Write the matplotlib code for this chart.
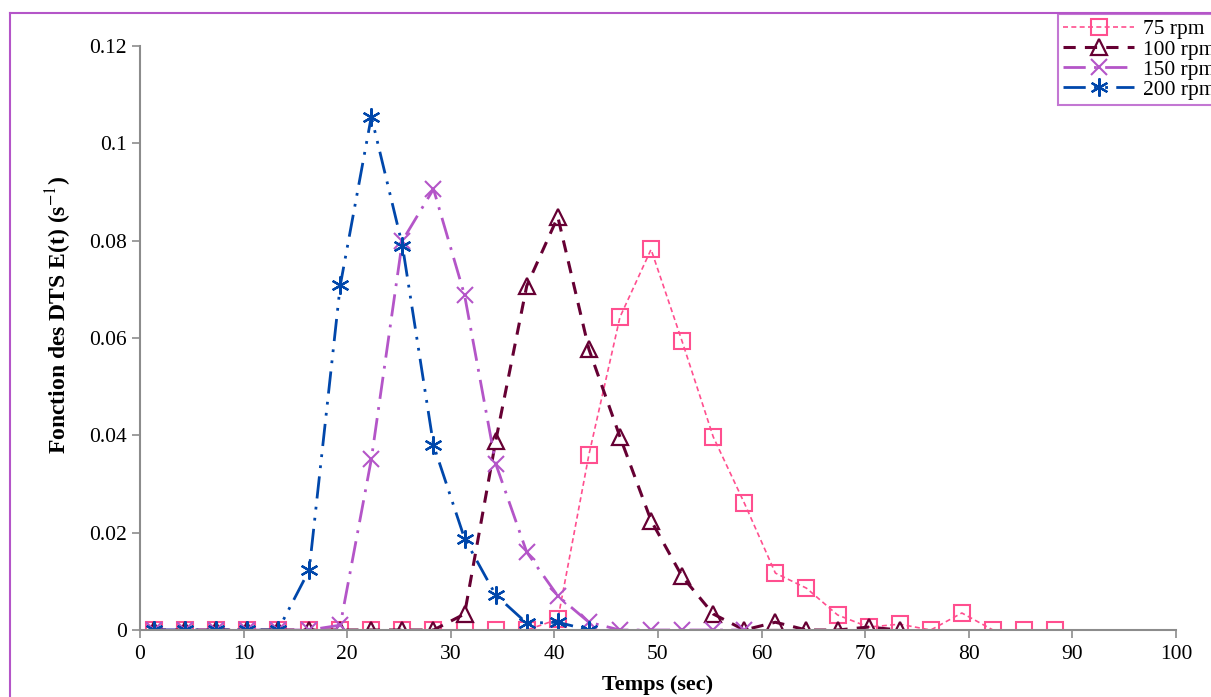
import numpy as np
import matplotlib.pyplot as plt
from matplotlib.lines import Line2D

plt.rcParams['font.family'] = ['Liberation Serif', 'DejaVu Serif']
plt.rcParams['mathtext.fontset'] = 'stix'

# temps (sec), pas de 3 s
t = np.arange(30) * 3 + 1.33

e75 = [0, 0, 0, 0, 0, 0, 0, 0, 0, 0, 0, 0, 0, 0.0022, 0.036, 0.0643, 0.0782,
       0.0593, 0.0397, 0.0261, 0.0117, 0.0086, 0.0031, 0.0006, 0.0012, 0,
       0.0035, 0, 0, 0]
e100 = [0, 0, 0, 0, 0, 0, 0, 0, 0, 0, 0.0033, 0.0388, 0.0707, 0.0849, 0.0577,
        0.0397, 0.0225, 0.011, 0.0033, 0, 0.0016, 0, 0, 0.0006, 0]
e150 = [0, 0, 0, 0, 0, 0, 0.001, 0.0351, 0.08, 0.0906, 0.0688, 0.0342, 0.016,
        0.007, 0.0016, 0, 0, 0, 0, 0]
e200 = [0, 0, 0, 0, 0, 0.0123, 0.0708, 0.1055, 0.079, 0.038, 0.0188, 0.0072,
        0.0014, 0.0016, 0]

labels = ['75 rpm', '100 rpm', '150 rpm', '200 rpm']

fig = plt.figure(figsize=(12.11, 6.97), dpi=100)
ax = fig.add_axes([0.1156, 0.0961, 0.8555, 0.8379])

ax.plot(t[:len(e75)], e75, color='#FF4F8F', lw=1.2, ls=(0, (3, 2)),
        marker='s', ms=11, mfc='none', mec='#FF4F8F', mew=1.5, label=labels[0])
ax.plot(t[:len(e100)], e100, color='#660033', lw=2.2, ls=(0, (4, 3)),
        marker='^', ms=11, mfc='none', mec='#660033', mew=1.6, label=labels[1])
ax.plot(t[:len(e150)], e150, color='#B455C8', lw=2.0, ls=(0, (8, 3, 1, 3)),
        marker='x', ms=11, mec='#B455C8', mew=1.5, label=labels[2])
ax.plot(t[:len(e200)], e200, color='#0047AB', lw=2.0, ls=(0, (8, 3, 1, 3, 1, 3)),
        marker=(6, 2, 0), ms=13, mec='#0047AB', mew=1.6, label=labels[3])

ax.set_xlim(0, 100)
ax.set_ylim(0, 0.12)
ax.set_xticks(np.arange(0, 101, 10))
ax.set_yticks([0, 0.02, 0.04, 0.06, 0.08, 0.1, 0.12])
ax.set_yticklabels(['0', '0.02', '0.04', '0.06', '0.08', '0.1', '0.12'])
for s in ['top', 'right']:
    ax.spines[s].set_visible(False)
for s in ['left', 'bottom']:
    ax.spines[s].set_color('#8c8c8c')
    ax.spines[s].set_linewidth(1.5)
ax.tick_params(axis='both', direction='out', length=6, width=1.2,
               color='#8c8c8c', labelsize=15.5)
ax.tick_params(axis='x', pad=5)

ax.set_xlabel('Temps (sec)', fontsize=16, fontweight='bold', labelpad=8)
ax.set_ylabel('Fonction des DTS E(t) (s$^{\\mathrm{-1}}$)', fontsize=17,
              fontweight='bold')
ax.yaxis.set_label_coords(-0.064, 0.54)

leg = fig.legend(loc='upper left', bbox_to_anchor=(1058 / 1211, 1 - 14 / 697),
                 fontsize=15.5, handlelength=3.3, frameon=True, fancybox=False,
                 borderpad=0.25, labelspacing=0.0, handletextpad=0.4,
                 borderaxespad=0)
leg.get_frame().set_edgecolor('#B455C8')
leg.get_frame().set_linewidth(1.5)

# cadre du graphique
fig.add_artist(Line2D([10 / 1211, 10 / 1211], [0, 1 - 13 / 697],
                      transform=fig.transFigure, color='#B455C8', lw=1.5))
fig.add_artist(Line2D([10 / 1211, 1], [1 - 13 / 697, 1 - 13 / 697],
                      transform=fig.transFigure, color='#B455C8', lw=1.5))

fig.savefig('out.png', dpi=100)
